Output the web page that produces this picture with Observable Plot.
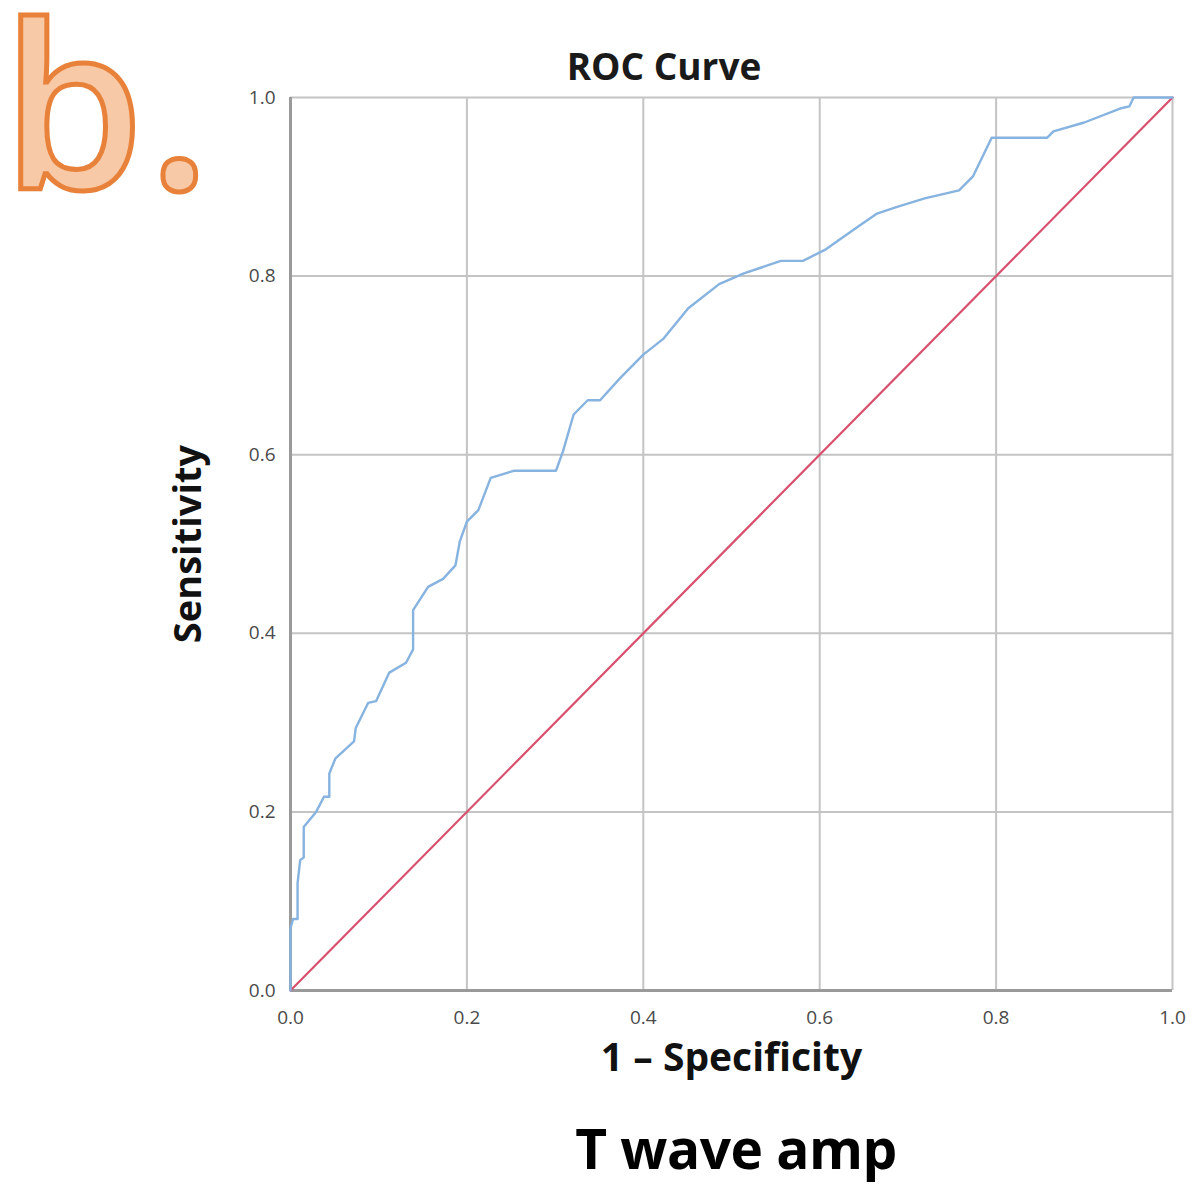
<!DOCTYPE html>
<html>
<head>
<meta charset="utf-8">
<script src="https://cdn.jsdelivr.net/npm/d3@7"></script>
<script src="https://cdn.jsdelivr.net/npm/@observablehq/plot@0.6"></script>
<style>
  html, body { margin: 0; padding: 0; background: #fff; }
  #wrap { position: relative; width: 1201px; height: 1185px; overflow: hidden; font-family: "Open Sans", sans-serif; }
  #chart { position: absolute; left: 0; top: 0; }
  .panel { position: absolute; left: 2px; top: 10px; font-family: "Open Sans", sans-serif; font-size: 228px; font-weight: 600; color: #f8c9a6; -webkit-text-stroke: 5px #e8823a; line-height: 0.8; letter-spacing: 4px; }
  .title { position: absolute; left: 464px; width: 400px; top: 47px; text-align: center; font-size: 37px; line-height: 1; font-weight: 700; color: #1a1a1a; }
  .sub { position: absolute; left: 336px; width: 800px; top: 1120px; text-align: center; font-size: 55px; line-height: 1; font-weight: 700; color: #000; letter-spacing: -0.5px; }
</style>
</head>
<body>
<div id="wrap">
  <div id="chart"></div>
  <div class="panel">b.</div>
  <div class="title">ROC Curve</div>
  <div class="sub">T wave amp</div>
</div>
<script>
// ROC curve points (1 - specificity, sensitivity)
const fpr = [0, 0, 0.003, 0.008, 0.008, 0.011, 0.015, 0.015, 0.029, 0.038, 0.044, 0.044, 0.051, 0.072, 0.074, 0.088, 0.097, 0.112, 0.131, 0.139, 0.139, 0.156, 0.173, 0.187, 0.192, 0.2, 0.213, 0.227, 0.253, 0.301, 0.309, 0.321, 0.337, 0.351, 0.374, 0.4, 0.423, 0.451, 0.486, 0.514, 0.556, 0.581, 0.607, 0.64, 0.665, 0.686, 0.719, 0.758, 0.774, 0.795, 0.802, 0.858, 0.865, 0.9, 0.942, 0.951, 0.956, 1.0];
const tpr = [0, 0.07, 0.08, 0.08, 0.12, 0.146, 0.149, 0.183, 0.2, 0.217, 0.217, 0.243, 0.26, 0.279, 0.294, 0.322, 0.324, 0.356, 0.367, 0.382, 0.426, 0.452, 0.461, 0.476, 0.503, 0.525, 0.538, 0.574, 0.582, 0.582, 0.604, 0.645, 0.661, 0.661, 0.686, 0.712, 0.73, 0.764, 0.791, 0.803, 0.817, 0.817, 0.83, 0.853, 0.87, 0.877, 0.887, 0.896, 0.912, 0.955, 0.955, 0.955, 0.962, 0.972, 0.988, 0.99, 1.0, 1.0];
// Reference line
const refX = [0, 1];
const refY = [0, 1];
const ticks = [0, 0.2, 0.4, 0.6, 0.8, 1.0];

const curve = fpr.map((x, i) => ({x, y: tpr[i]}));
const ref = refX.map((x, i) => ({x, y: refY[i]}));

const chart = Plot.plot({
  width: 1201,
  height: 1185,
  marginLeft: 290,
  marginRight: 29,
  marginTop: 97,
  marginBottom: 195,
  style: {fontFamily: "Open Sans, sans-serif", background: "#fff"},
  x: {domain: [0, 1], ticks: ticks},
  y: {domain: [0, 1], ticks: ticks},
  marks: [
    Plot.gridX(ticks, {stroke: "#c4c4c4", strokeOpacity: 1, strokeWidth: 2}),
    Plot.gridY(ticks, {stroke: "#c4c4c4", strokeOpacity: 1, strokeWidth: 2}),
    Plot.ruleX([0], {stroke: "#9a9a9a", strokeWidth: 3}),
    Plot.ruleY([0], {stroke: "#9a9a9a", strokeWidth: 3}),
    Plot.axisX(ticks, {tickSize: 0, tickPadding: 20, fontSize: 19, fill: "#4a4a4a", tickFormat: d => d.toFixed(1),
      label: "1 – Specificity", labelAnchor: "center", labelArrow: false, labelOffset: 80}),
    Plot.axisY(ticks, {tickSize: 0, tickPadding: 15, fontSize: 19, fill: "#4a4a4a", tickFormat: d => d.toFixed(1),
      label: "Sensitivity", labelAnchor: "center", labelArrow: false, labelOffset: 116}),
    Plot.line(ref, {x: "x", y: "y", stroke: "#d9506f", strokeWidth: 2.2}),
    Plot.line(curve, {x: "x", y: "y", stroke: "#86b3e0", strokeWidth: 2.4})
  ]
});
document.getElementById("chart").appendChild(chart);
// style axis labels (bold, larger, dark)
chart.querySelectorAll("g[aria-label='x-axis label'] text").forEach(t => {
  t.setAttribute("font-size", "39");
  t.setAttribute("font-weight", "700");
  t.setAttribute("fill", "#111");
});
chart.querySelectorAll("g[aria-label='y-axis label'] text").forEach(t => {
  t.setAttribute("font-size", "38");
  t.setAttribute("font-weight", "700");
  t.setAttribute("fill", "#111");
});
</script>
</body>
</html>
